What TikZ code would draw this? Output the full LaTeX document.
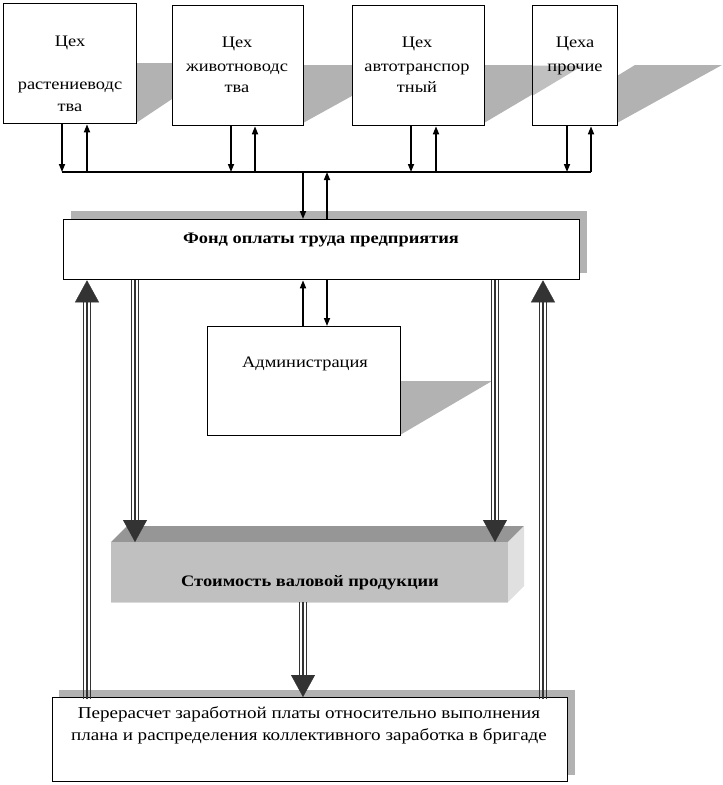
\documentclass[tikz,border=0pt]{standalone}
\usepackage{fontspec}
\setmainfont{Liberation Serif}[FakeStretch=1.15]
\usetikzlibrary{arrows.meta,calc}
\definecolor{dgray}{HTML}{333333}
\definecolor{shad}{HTML}{B2B2B2}
\definecolor{lshad}{HTML}{C0C0C0}
\definecolor{front}{HTML}{C0C0C0}
\definecolor{topf}{HTML}{969696}
\definecolor{sidef}{HTML}{E0E0E0}
\newcommand{\tarrow}[2]{%
  \foreach \dx in {-3.3,0,3.3}{\draw[tline, shorten >=14pt] ([xshift=\dx pt]#1) -- ([xshift=\dx pt]#2);}
  \draw[thead] (#1) -- (#2);}
\begin{document}
\begin{tikzpicture}[x=1pt,y=-1pt,
  box/.style={draw=black, line width=1.3pt, fill=white, inner sep=0pt, anchor=north west},
  lbl/.style={font=\fontsize{16}{19}\selectfont, inner sep=0pt, anchor=base},
  wlbl/.style={lbl, font=\fontsize{16.6}{19}\selectfont},
  blbl/.style={lbl, font=\fontsize{16}{19}\selectfont\bfseries},
  sarr/.style={line width=1.6pt, -{Triangle[length=8pt,width=6pt]}},
  plain/.style={line width=1.6pt},
  tline/.style={dgray, line width=1.4pt},
  thead/.style={dgray, line width=0.3pt, -{Triangle[length=22pt,width=24pt]}},
  shd/.style={fill=shad, draw=none}]
\useasboundingbox (0,0) rectangle (723,785);

% shadows of the top boxes
\fill[shd] (136,63) -- (226,63) -- (136,123) -- cycle;
\fill[shd] (303,65) -- (408,65) -- (303,123) -- cycle;
\fill[shd] (484,65) -- (582,65) -- (484,123) -- cycle;
\fill[shd] (617,76) -- (635,65) -- (722,65) -- (617,123) -- cycle;

% top boxes
\node[box, minimum width=133pt, minimum height=120pt] (b1) at (3,3) {};
\node[box, minimum width=131pt, minimum height=120pt] (b2) at (172,5) {};
\node[box, minimum width=132pt, minimum height=120pt] (b3) at (352,5) {};
\node[box, minimum width=85pt, minimum height=120pt,
  path picture={\fill[lshad] ($(path picture bounding box.north west)+(0,60)$) -- ++(50,0) -- ++(-50,30) -- cycle;}] (b4) at (532,5) {};

\node[lbl] (t1a) at (70,46) {Цех};
\node[lbl] (t1b) at (70,89) {растениеводс};
\node[lbl] (t1c) at (70,111) {тва};
\node[lbl] (t2a) at (237,47) {Цех};
\node[lbl] (t2b) at (237,71) {животноводс};
\node[lbl] (t2c) at (237,92) {тва};
\node[lbl] (t3a) at (417,47) {Цех};
\node[lbl] (t3b) at (417,71) {автотранспор};
\node[lbl] (t3c) at (417,92) {тный};
\node[lbl] (t4a) at (575,47) {Цеха};
\node[lbl] (t4b) at (575,71) {прочие};

% bus
\coordinate (d1) at (62,172);
\coordinate (u1) at (87,172);
\coordinate (d2) at (231,172);
\coordinate (u2) at (255,172);
\coordinate (d3) at (411,172);
\coordinate (u3) at (436,172);
\coordinate (d4) at (567,172);
\coordinate (u4) at (591,172);
\coordinate (fd) at (303,172);
\coordinate (fu) at (327,172);
\draw[plain] (d1) -- (u4);

% fund box
\fill[shd] (71,211) rectangle (587,273);
\node[box, minimum width=516pt, minimum height=60pt] (fund) at (63,219) {};
\node[blbl] (tf) at (321,243) {Фонд оплаты труда предприятия};

% admin box
\fill[shd] (400,381) -- (492,381) -- (400,435) -- cycle;
\node[box, minimum width=193pt, minimum height=109pt] (adm) at (207,326) {};
\node[lbl] (ta) at (305,367) {Администрация};

% bottom box
\fill[shd] (59,690) rectangle (575,775);
\node[box, minimum width=515pt, minimum height=84pt] (bot) at (52,697) {};
\node[wlbl] (tb1) at (309,718) {Перерасчет заработной платы относительно выполнения};
\node[wlbl] (tb2) at (309,740) {плана и распределения коллективного заработка в бригаде};

% gross product 3D box
\fill[topf] (111,542) -- (127,526) -- (524,526) -- (508,542) -- cycle;
\fill[sidef] (508,542) -- (524,526) -- (524,586) -- (508,602) -- cycle;
\node[fill=front, inner sep=0pt, anchor=north west, minimum width=397pt, minimum height=60pt] (gross) at (111,542) {};
\draw[line width=0.8pt, color=sidef!80!front] (gross.south west) -- (gross.south east);
\node[blbl] (tg) at (310,586) {Стоимость валовой продукции};

% small arrows, boxes <-> bus
\draw[sarr] (b1.south -| d1) -- (d1);
\draw[sarr] (u1) -- (b1.south -| u1);
\draw[sarr] (b2.south -| d2) -- (d2);
\draw[sarr] (u2) -- (b2.south -| u2);
\draw[sarr] (b3.south -| d3) -- (d3);
\draw[sarr] (u3) -- (b3.south -| u3);
\draw[sarr] (b4.south -| d4) -- (d4);
\draw[sarr] (u4) -- (b4.south -| u4);
% bus <-> fund
\draw[sarr] (fd) -- (fund.north -| fd);
\draw[sarr] (fund.north -| fu) -- (fu);
% fund <-> admin
\draw[sarr] (adm.north -| fd) -- (fund.south -| fd);
\draw[sarr] (fund.south -| fu) -- (adm.north -| fu);

% triple arrows
\coordinate (lo) at (87,0);
\coordinate (li) at (135,0);
\coordinate (ri) at (495,0);
\coordinate (ro) at (543,0);
\coordinate (cm) at (303,0);
\coordinate (lob) at ($(bot.north -| lo)+(0,2)$);
\coordinate (lot) at (fund.south -| lo);
\coordinate (rob) at ($(bot.north -| ro)+(0,2)$);
\coordinate (rot) at (fund.south -| ro);
\coordinate (lit) at (fund.south -| li);
\coordinate (lib) at (gross.north -| li);
\coordinate (rit) at (fund.south -| ri);
\coordinate (rib) at (gross.north -| ri);
\coordinate (cmt) at (gross.south -| cm);
\coordinate (cmb) at (bot.north -| cm);
\tarrow{lob}{lot}
\tarrow{rob}{rot}
\tarrow{lit}{lib}
\tarrow{rit}{rib}
\tarrow{cmt}{cmb}
\end{tikzpicture}
\end{document}
